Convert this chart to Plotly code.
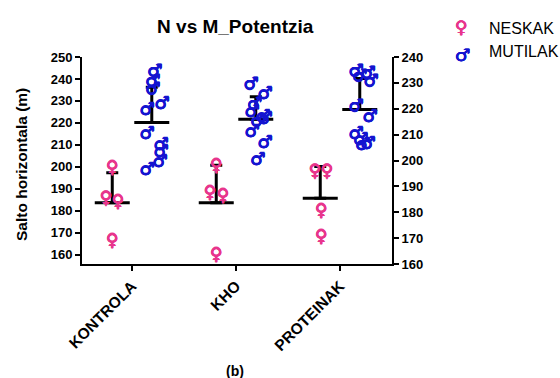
import numpy as np
import plotly.graph_objects as go

# Groups and measured horizontal jump (m)
categories = ["KONTROLA", "KHO", "PROTEINAK"]

neskak = {
    "KONTROLA": [199.3, 185.2, 183.8, 166.0],
    "KHO": [200.2, 187.9, 186.5, 159.6],
    "PROTEINAK": [197.5, 197.5, 179.7, 167.8],
}
mutilak = {
    "KONTROLA": [234.2, 230.3, 227.2, 221.7, 219.4, 210.1, 205.8, 203.1, 199.2, 196.1],
    "KHO": [229.1, 225.6, 221.4, 218.6, 216.7, 214.8, 215.9, 210.9, 206.6, 200.0],
    "PROTEINAK": [234.2, 233.4, 232.2, 230.3, 220.6, 216.7, 210.1, 207.8, 206.2, 205.8],
}

left_ticks = list(range(160, 251, 10))
right_ticks = list(range(160, 241, 10))

# Scatter spread of the symbols around each group's column (category units)
neskak_dx = {
    "KONTROLA": [-0.19, -0.25, -0.135, -0.19],
    "KHO": [-0.19, -0.25, -0.125, -0.19],
    "PROTEINAK": [-0.24, -0.125, -0.18, -0.18],
}
mutilak_dx = {
    "KONTROLA": [0.22, 0.20, 0.20, 0.29, 0.145, 0.145, 0.28, 0.28, 0.27, 0.145],
    "KHO": [0.145, 0.28, 0.18, 0.155, 0.26, 0.21, 0.28, 0.155, 0.28, 0.21],
    "PROTEINAK": [0.155, 0.27, 0.19, 0.30, 0.155, 0.29, 0.155, 0.20, 0.27, 0.22],
}
col_off = 0.19

PINK = "#E8358C"
BLUE = "#1414D0"
FONT = "Liberation Sans, Arial, sans-serif"
GLYPH_FONT = "DejaVu Sans"


def outline(color, r=0.45):
    # thicken the thin symbol strokes with a tight same-colour halo
    return ", ".join(f"{dx}px {dy}px 0 {color}" for dx, dy in
                     [(r, 0), (-r, 0), (0, r), (0, -r)])


fig = go.Figure()


def add_group(values, dxs, sign, glyph, color, yaxis):
    # mean line + upward SD bar, then the individual symbols on top
    for i, cat in enumerate(categories):
        v = np.array(values[cat])
        m = v.mean()
        sd = v.std(ddof=1)
        xc = i + sign * col_off
        fig.add_trace(go.Scatter(
            x=[xc], y=[m], mode="markers", yaxis=yaxis, showlegend=False,
            marker=dict(symbol="line-ew", size=25, color="black",
                        line=dict(width=3, color="black")),
            error_y=dict(type="data", symmetric=False, array=[sd], arrayminus=[0],
                         color="black", thickness=3, width=6),
            hoverinfo="skip",
        ))
    for i, cat in enumerate(categories):
        xs = [i + d for d in dxs[cat]]
        fig.add_trace(go.Scatter(
            x=xs, y=values[cat], mode="text", yaxis=yaxis, showlegend=False,
            text=[glyph] * len(xs), textposition="middle center",
            textfont=dict(family=GLYPH_FONT, size=17, color=color, weight="bold",
                          shadow=outline(color)),
        ))


add_group(neskak, neskak_dx, -1, "♀", PINK, "y")
add_group(mutilak, mutilak_dx, 1, "♂", BLUE, "y2")

axis_common = dict(
    showgrid=False, zeroline=False, showline=True, linecolor="black", linewidth=2,
    ticks="outside", ticklen=5, tickwidth=2, tickcolor="black",
    tickfont=dict(family=FONT, size=13, color="black", weight="bold"),
)

fig.update_layout(
    width=560, height=378,
    margin=dict(l=82, r=168, t=57, b=114),
    paper_bgcolor="white", plot_bgcolor="white",
    showlegend=False,
    title=dict(text="<b>N vs M_Potentzia</b>", x=0.42, xref="container", xanchor="center",
               y=1 - 26 / 378, yanchor="middle",
               font=dict(family=FONT, size=19, color="black")),
    xaxis=dict(range=[-0.481, 2.5], tickvals=[0, 1, 2], ticktext=categories,
               tickangle=-45, **{**axis_common,
                                 "tickfont": dict(family=FONT, size=15.5, color="black",
                                                  weight="bold")}),
    yaxis=dict(range=[155.7, 250], tickvals=left_ticks, **axis_common),
    yaxis2=dict(range=[160, 240], tickvals=right_ticks, overlaying="y", side="right",
                **axis_common),
)

annotations = [
    dict(text="<b>Salto horizontala (m)</b>", x=(21 - 82) / 310, y=(264 - 165) / 207,
         xref="paper", yref="paper",
         textangle=-90, showarrow=False, xanchor="center", yanchor="middle",
         font=dict(family=FONT, size=15.5, color="black")),
    dict(text="<b>(b)</b>", x=(235 - 82) / 310, y=(264 - 371) / 207, xref="paper", yref="paper",
         showarrow=False, xanchor="center", yanchor="middle",
         font=dict(family=FONT, size=14, color="black")),
    dict(text="♀", x=(461 - 82) / 310, y=(264 - 27) / 207, xref="paper", yref="paper",
         showarrow=False, xanchor="center", yanchor="middle",
         font=dict(family=GLYPH_FONT, size=17, color=PINK, weight="bold",
                   shadow=outline(PINK))),
    dict(text="♂", x=(462 - 82) / 310, y=(264 - 55) / 207, xref="paper", yref="paper",
         showarrow=False, xanchor="center", yanchor="middle",
         font=dict(family=GLYPH_FONT, size=17, color=BLUE, weight="bold",
                   shadow=outline(BLUE))),
    dict(text="NESKAK", x=(487 - 82) / 310, y=(264 - 28) / 207, xref="paper", yref="paper",
         showarrow=False, xanchor="left", yanchor="middle",
         font=dict(family=FONT, size=16, color="black")),
    dict(text="MUTILAK", x=(487 - 82) / 310, y=(264 - 51) / 207, xref="paper", yref="paper",
         showarrow=False, xanchor="left", yanchor="middle",
         font=dict(family=FONT, size=16, color="black")),
]
fig.update_layout(annotations=annotations)

fig.write_html("out.html")
